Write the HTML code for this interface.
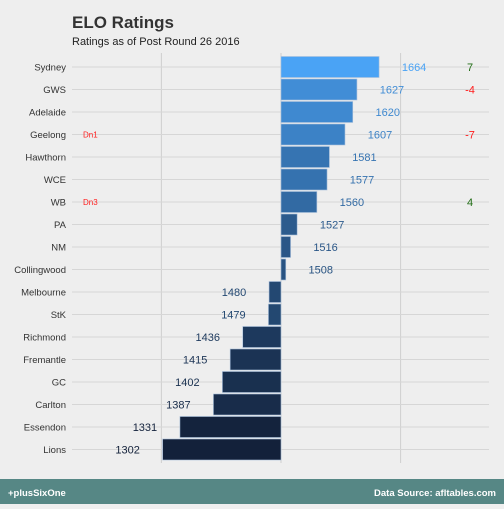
<!DOCTYPE html>
<html><head><meta charset="utf-8"><style>
body{margin:0;width:504px;height:504px;background:#efefef;font-family:"Liberation Sans",sans-serif;overflow:hidden}
</style></head><body>
<svg width="504" height="504" id="chart">
<rect x="0" y="0" width="504" height="504" fill="#eeeeee"/>
<text x="72" y="28" font-size="17" font-weight="bold" fill="#333">ELO Ratings</text>
<text x="72" y="45" font-size="11" fill="#222">Ratings as of Post Round 26 2016</text>
<g id="grid"></g><g id="bars"></g>
<rect x="0" y="479" width="504" height="25" fill="#568785"/>
<text x="8" y="496" font-size="9.5" font-weight="bold" fill="#fff">+plusSixOne</text>
<text x="496" y="496" font-size="9.5" font-weight="bold" fill="#fff" text-anchor="end">Data Source: afltables.com</text>
</svg>
<script>
const teams=["Sydney","GWS","Adelaide","Geelong","Hawthorn","WCE","WB","PA","NM","Collingwood","Melbourne","StK","Richmond","Fremantle","GC","Carlton","Essendon","Lions"];
const ratings=[1664,1627,1620,1607,1581,1577,1560,1527,1516,1508,1480,1479,1436,1415,1402,1387,1331,1302];
const changes=["7","-4","","-7","","","4","","","","","","","","","","",""];
const notes=["","","","Dn1","","","Dn3","","","","","","","","","","",""];
const xTicks=[1300,1500,1700];
const NS="http://www.w3.org/2000/svg";
const x=v=>281+(v-1500)*0.598;
const y=i=>67+i*22.5;
function mk(t,a,p){const e=document.createElementNS(NS,t);for(const k in a)e.setAttribute(k,a[k]);p.appendChild(e);return e;}
const grid=document.getElementById('grid'),bars=document.getElementById('bars');
xTicks.forEach(t=>{const l=mk('line',{x1:x(t),x2:x(t),y1:53,y2:463,stroke:'#cfcfcf','stroke-width':1},grid);

});
teams.forEach((t,i)=>{const l=mk('line',{x1:72,x2:489,y1:y(i),y2:y(i),stroke:'#d6d6d6','stroke-width':1},grid);

});
const mn=Math.min(...ratings),mx=Math.max(...ratings);
function col(v){const f=Math.pow((v-mn)/(mx-mn),1.7);const a=[0x13,0x21,0x3a],b=[0x4a,0xa3,0xf5];return 'rgb('+a.map((c,k)=>Math.round(c+(b[k]-c)*f)).join(',')+')';}
teams.forEach((t,i)=>{
const v=ratings[i],c=col(v),x0=Math.min(x(v),x(1500)),w=Math.abs(x(v)-x(1500));
const r=mk('rect',{x:x0,y:y(i)-10.5,width:w,height:21,fill:c,stroke:'#a9c0dc','stroke-width':0.6},bars);


const lb=mk('text',{x:66,y:y(i)+3.5,'font-size':9.5,fill:'#333','text-anchor':'end'},bars);lb.textContent=t;


const vx=v>=1500?x(v)+35:x(v)-35;
const vl=mk('text',{x:vx,y:y(i)+4,'font-size':11,fill:c,'text-anchor':'middle'},bars);vl.textContent=v;


if(changes[i]){const neg=changes[i][0]=='-';const ch=mk('text',{x:470,y:y(i)+4,'font-size':11,fill:neg?'#ff1a1a':'#1e6b12','text-anchor':'middle'},bars);ch.textContent=changes[i];

}
if(notes[i]){const n=mk('text',{x:83,y:y(i)+3,'font-size':8,fill:'#ff2020'},bars);n.textContent=notes[i];

}
});
</script>
</body></html>
